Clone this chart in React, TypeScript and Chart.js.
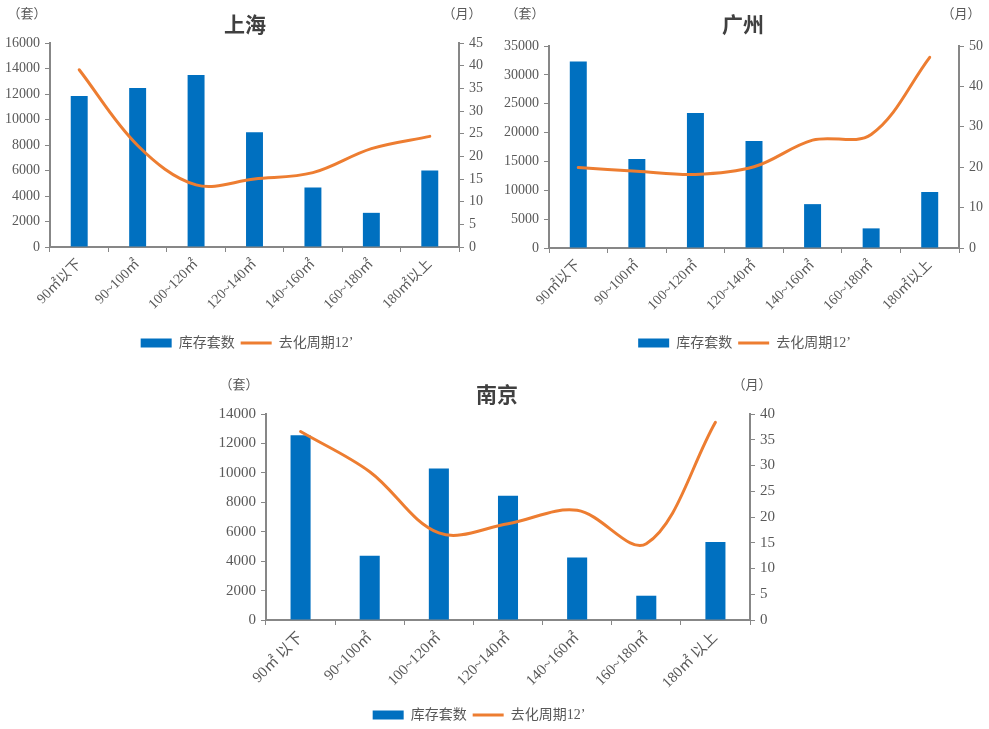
import React, { useEffect, useRef } from "react";
import { Chart, registerables } from "chart.js";

Chart.register(...registerables);

// Unit-size bands shared by the three city panels
const categories = ["90㎡以下", "90~100㎡", "100~120㎡", "120~140㎡", "140~160㎡", "160~180㎡", "180㎡以上"];
const nanjingCategories = ["90㎡ 以下", "90~100㎡", "100~120㎡", "120~140㎡", "140~160㎡", "160~180㎡", "180㎡ 以上"];

const seriesNames = ["库存套数", "去化周期12’"];

// 上海
const shanghaiStock = [11850, 12470, 13500, 9000, 4660, 2680, 6000];
const shanghaiCycle = [39.1, 22.4, 13.7, 15.0, 16.4, 21.7, 24.4];

// 广州
const guangzhouStock = [32300, 15400, 23400, 18550, 7600, 3400, 9700];
const guangzhouCycle = [19.9, 19.0, 18.2, 20.1, 26.7, 28.1, 47.2];

// 南京
const nanjingStock = [12550, 4370, 10300, 8450, 4250, 1650, 5300];
const nanjingCycle = [36.6, 28.8, 16.9, 18.7, 21.3, 14.8, 38.4];

const BAR_COLOR = "#0070C0";
const LINE_COLOR = "#ED7D31";
const AXIS_COLOR = "#878787";
const TEXT_COLOR = "#595959";
const SERIF = "'Liberation Serif', 'Noto Sans CJK SC', serif";
const CJK = "'Noto Sans CJK SC', sans-serif";

interface PanelProps {
  title: string;
  labels: string[];
  stock: number[];
  cycle: number[];
  stockMax: number;
  stockStep: number;
  cycleMax: number;
  cycleStep: number;
  left: number;
  top: number;
  width: number;
  height: number;
  padTop: number;
  padRight: number;
  leftAxis: number;
  rightAxis: number;
  xAxis: number;
  fontSize: number;
  titleAt: [number, number];
  unitLeftAt: [number, number];
  unitRightAt: [number, number];
}

function Label({ text, at, size, bold }: { text: string; at: [number, number]; size: number; bold?: boolean }) {
  return (
    <div
      style={{
        position: "absolute",
        left: at[0],
        top: at[1],
        transform: "translate(-50%, -50%)",
        whiteSpace: "nowrap",
        lineHeight: 1,
        fontFamily: CJK,
        fontSize: size,
        fontWeight: bold ? 700 : 400,
        color: bold ? "#404040" : TEXT_COLOR,
      }}
    >
      {text}
    </div>
  );
}

const plainNumber = (v: number | string) => String(v);

function CityPanel(p: PanelProps) {
  const ref = useRef<HTMLCanvasElement | null>(null);

  useEffect(() => {
    if (!ref.current) return;
    const tickFont = { family: SERIF, size: p.fontSize };
    const chart = new Chart(ref.current, {
      type: "bar",
      data: {
        labels: p.labels,
        datasets: [
          {
            type: "bar",
            label: seriesNames[0],
            data: p.stock,
            yAxisID: "y",
            backgroundColor: BAR_COLOR,
            borderWidth: 0,
            barPercentage: 0.29,
            categoryPercentage: 1,
            pointStyle: "rect",
            order: 1,
          },
          {
            type: "line",
            label: seriesNames[1],
            data: p.cycle,
            yAxisID: "y1",
            borderColor: LINE_COLOR,
            backgroundColor: LINE_COLOR,
            borderWidth: 3,
            borderCapStyle: "round",
            tension: 0.35,
            pointRadius: 0,
            pointHoverRadius: 0,
            pointBorderWidth: 3,
            pointStyle: "line",
            fill: false,
            order: 0,
          },
        ],
      },
      options: {
        responsive: false,
        maintainAspectRatio: false,
        animation: false,
        layout: { padding: { top: p.padTop, left: 0, right: p.padRight, bottom: 0 } },
        plugins: {
          title: { display: false },
          tooltip: { enabled: false },
          legend: {
            position: "bottom",
            labels: {
              usePointStyle: true,
              pointStyleWidth: 31,
              boxHeight: 9,
              padding: 6,
              color: TEXT_COLOR,
              font: { family: SERIF, size: 14 },
              sort: (a: any, b: any) => a.datasetIndex - b.datasetIndex,
            },
          },
        },
        scales: {
          x: {
            grid: {
              offset: true,
              drawOnChartArea: false,
              drawTicks: true,
              tickLength: 5,
              color: AXIS_COLOR,
              lineWidth: 1,
            },
            border: { color: AXIS_COLOR, width: 2 },
            ticks: {
              autoSkip: false,
              maxRotation: 45,
              minRotation: 45,
              padding: 4,
              color: TEXT_COLOR,
              font: tickFont,
            },
            afterFit: (s: any) => {
              s.height = p.xAxis;
            },
          },
          y: {
            position: "left",
            min: 0,
            max: p.stockMax,
            ticks: { stepSize: p.stockStep, padding: 5, color: TEXT_COLOR, font: tickFont, callback: plainNumber },
            grid: { drawOnChartArea: false, tickLength: 5, color: AXIS_COLOR },
            border: { color: AXIS_COLOR, width: 2 },
            afterFit: (s: any) => {
              s.width = p.leftAxis;
            },
          },
          y1: {
            position: "right",
            min: 0,
            max: p.cycleMax,
            ticks: { stepSize: p.cycleStep, padding: 5, color: TEXT_COLOR, font: tickFont, callback: plainNumber },
            grid: { drawOnChartArea: false, tickLength: 5, color: AXIS_COLOR },
            border: { color: AXIS_COLOR, width: 2 },
            afterFit: (s: any) => {
              s.width = p.rightAxis;
            },
          },
        },
      } as any,
    });
    return () => chart.destroy();
  }, []);

  return (
    <>
      <canvas
        ref={ref}
        width={p.width}
        height={p.height}
        style={{ position: "absolute", left: p.left, top: p.top, width: p.width, height: p.height }}
      />
      <Label text={p.title} at={p.titleAt} size={21} bold />
      <Label text="（套）" at={p.unitLeftAt} size={13} />
      <Label text="（月）" at={p.unitRightAt} size={13} />
    </>
  );
}

export default function App() {
  return (
    <div
      style={{
        position: "absolute",
        left: 0,
        top: 0,
        width: 989,
        height: 729,
        overflow: "hidden",
        background: "#ffffff",
      }}
    >
      <CityPanel
        title="上海"
        labels={categories}
        stock={shanghaiStock}
        cycle={shanghaiCycle}
        stockMax={16000}
        stockStep={2000}
        cycleMax={45}
        cycleStep={5}
        left={0}
        top={0}
        width={494}
        height={360}
        padTop={43}
        padRight={0}
        leftAxis={50}
        rightAxis={35}
        xAxis={83}
        fontSize={14}
        titleAt={[245, 23]}
        unitLeftAt={[27, 12]}
        unitRightAt={[462, 12]}
      />
      <CityPanel
        title="广州"
        labels={categories}
        stock={guangzhouStock}
        cycle={guangzhouCycle}
        stockMax={35000}
        stockStep={5000}
        cycleMax={50}
        cycleStep={10}
        left={500}
        top={0}
        width={489}
        height={360}
        padTop={46}
        padRight={0}
        leftAxis={49}
        rightAxis={30}
        xAxis={82}
        fontSize={14}
        titleAt={[743, 23]}
        unitLeftAt={[525, 12]}
        unitRightAt={[961, 12]}
      />
      <CityPanel
        title="南京"
        labels={nanjingCategories}
        stock={nanjingStock}
        cycle={nanjingCycle}
        stockMax={14000}
        stockStep={2000}
        cycleMax={40}
        cycleStep={5}
        left={160}
        top={365}
        width={660}
        height={367}
        padTop={49}
        padRight={22}
        leftAxis={106}
        rightAxis={48}
        xAxis={82}
        fontSize={15}
        titleAt={[497, 393]}
        unitLeftAt={[239, 383]}
        unitRightAt={[752, 383]}
      />
    </div>
  );
}
